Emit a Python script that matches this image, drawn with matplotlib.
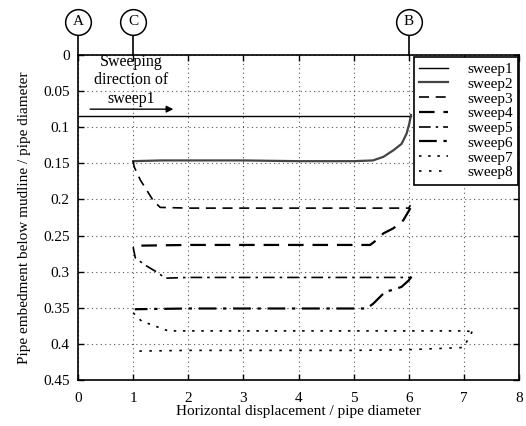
import matplotlib
matplotlib.use("Agg")
import matplotlib.pyplot as plt
import matplotlib.transforms as mtransforms

plt.rcParams['font.family'] = ['Liberation Serif', 'DejaVu Serif']

# ---- data ----
s1_x = [0.0, 1.0, 2.0, 3.0, 4.0, 5.0, 6.04]
s1_y = [0.084, 0.084, 0.084, 0.084, 0.084, 0.084, 0.084]

s2_x = [6.04, 6.01, 5.96, 5.87, 5.72, 5.54, 5.35, 5.0, 4.0, 3.0, 2.0, 1.5, 1.0]
s2_y = [0.083, 0.095, 0.109, 0.123, 0.132, 0.141, 0.146, 0.147, 0.147, 0.146, 0.146, 0.146, 0.147]

s3_x = [1.0, 1.02, 1.13, 1.36, 1.49, 2.0, 3.0, 4.0, 5.0, 6.0, 6.03]
s3_y = [0.147, 0.155, 0.173, 0.201, 0.211, 0.212, 0.212, 0.212, 0.212, 0.212, 0.208]

s4_x = [6.03, 5.90, 5.72, 5.54, 5.42, 5.30, 5.0, 4.0, 3.0, 2.0, 1.1, 1.0]
s4_y = [0.212, 0.229, 0.240, 0.247, 0.256, 0.263, 0.263, 0.263, 0.263, 0.263, 0.264, 0.266]

s5_x = [1.0, 1.04, 1.22, 1.46, 1.58, 2.0, 3.0, 4.0, 5.0, 6.05]
s5_y = [0.266, 0.281, 0.291, 0.302, 0.309, 0.308, 0.308, 0.308, 0.308, 0.308]

s6_x = [6.05, 6.0, 5.87, 5.72, 5.57, 5.36, 5.24, 5.0, 4.0, 3.0, 2.0, 1.03]
s6_y = [0.307, 0.312, 0.321, 0.325, 0.328, 0.344, 0.351, 0.351, 0.351, 0.351, 0.351, 0.352]

s7_x = [1.0, 1.16, 1.36, 1.52, 1.64, 2.0, 3.0, 4.0, 5.0, 6.0, 7.0, 7.15]
s7_y = [0.357, 0.369, 0.374, 0.379, 0.382, 0.382, 0.382, 0.382, 0.382, 0.382, 0.382, 0.383]

s8_x = [7.15, 7.05, 7.0, 6.0, 5.0, 4.0, 3.0, 2.0, 1.06]
s8_y = [0.383, 0.397, 0.405, 0.408, 0.409, 0.409, 0.409, 0.409, 0.410]

names = ['sweep1', 'sweep2', 'sweep3', 'sweep4', 'sweep5', 'sweep6', 'sweep7', 'sweep8']
xs = [s1_x, s2_x, s3_x, s4_x, s5_x, s6_x, s7_x, s8_x]
ys = [s1_y, s2_y, s3_y, s4_y, s5_y, s6_y, s7_y, s8_y]

xticks = [0, 1, 2, 3, 4, 5, 6, 7, 8]
yticks = [0, 0.05, 0.1, 0.15, 0.2, 0.25, 0.3, 0.35, 0.4, 0.45]
ytick_labels = ['0', '0.05', '0.1', '0.15', '0.2', '0.25', '0.3', '0.35', '0.4', '0.45']

markers_x = [0, 1, 6]
markers_txt = ['A', 'C', 'B']

# ---- styles ----
styles = [
    dict(color='black', lw=1.0, ls='-'),
    dict(color='#444444', lw=1.6, ls='-'),
    dict(color='black', lw=1.2, ls=(0, (6, 4))),
    dict(color='black', lw=1.6, ls=(0, (7, 4))),
    dict(color='black', lw=1.2, ls=(0, (7, 3, 1.5, 3))),
    dict(color='black', lw=1.6, ls=(0, (8, 3, 1.5, 3))),
    dict(color='black', lw=1.2, ls=(0, (1.5, 4))),
    dict(color='black', lw=1.2, ls=(0, (1.5, 4.5))),
]

fig = plt.figure(figsize=(5.26, 4.26), dpi=100)
ax = fig.add_axes([78 / 526, 1 - 380 / 426, 441 / 526, 325 / 426])

for x, y, n, st in zip(xs, ys, names, styles):
    ax.plot(x, y, label=n, **st)

ax.set_xlim(0, 8)
ax.set_ylim(0.45, 0)
ax.set_xticks(xticks)
ax.set_yticks(yticks)
ax.set_yticklabels(ytick_labels)
ax.grid(True, ls=(0, (1, 3)), color='#555555', lw=0.8)
ax.tick_params(direction='in', top=True, right=True, length=4, labelsize=11, width=1, pad=6)
ax.tick_params(axis='x', pad=9)
for sp in ax.spines.values():
    sp.set_linewidth(1.2)

ax.set_xlabel('Horizontal displacement / pipe diameter', fontsize=11, labelpad=0)
ax.set_ylabel('Pipe embedment below mudline / pipe diameter', fontsize=11, labelpad=9)

leg = ax.legend(loc='upper right', bbox_to_anchor=(0.998, 0.994), borderaxespad=0,
                fancybox=False, framealpha=1, edgecolor='black', fontsize=11,
                handlelength=1.9, handletextpad=1.25, labelspacing=0.07,
                borderpad=0.35)
leg.get_frame().set_linewidth(1.2)

# annotation text and arrow
ax.text(0.97, 0.035, 'Sweeping\ndirection of\nsweep1', ha='center', va='center',
        fontsize=11.5, linespacing=1.22)
ax.annotate('', xy=(1.78, 0.075), xytext=(0.17, 0.075),
            arrowprops=dict(arrowstyle='-|>', color='black', lw=1.0, mutation_scale=10))

# circled markers above the axes
trans = mtransforms.blended_transform_factory(ax.transData, ax.transAxes)
for mx, mt in zip(markers_x, markers_txt):
    ax.plot([mx, mx], [1.0, 1.062], color='black', lw=1.2, transform=trans, clip_on=False)
    ax.plot([mx], [1.102], marker='o', ms=18.5, mfc='white', mec='black', mew=1.1,
            transform=trans, clip_on=False)
    ax.text(mx, 1.102, mt, ha='center', va='center', fontsize=11, transform=trans)

fig.savefig('out.png', dpi=100)
